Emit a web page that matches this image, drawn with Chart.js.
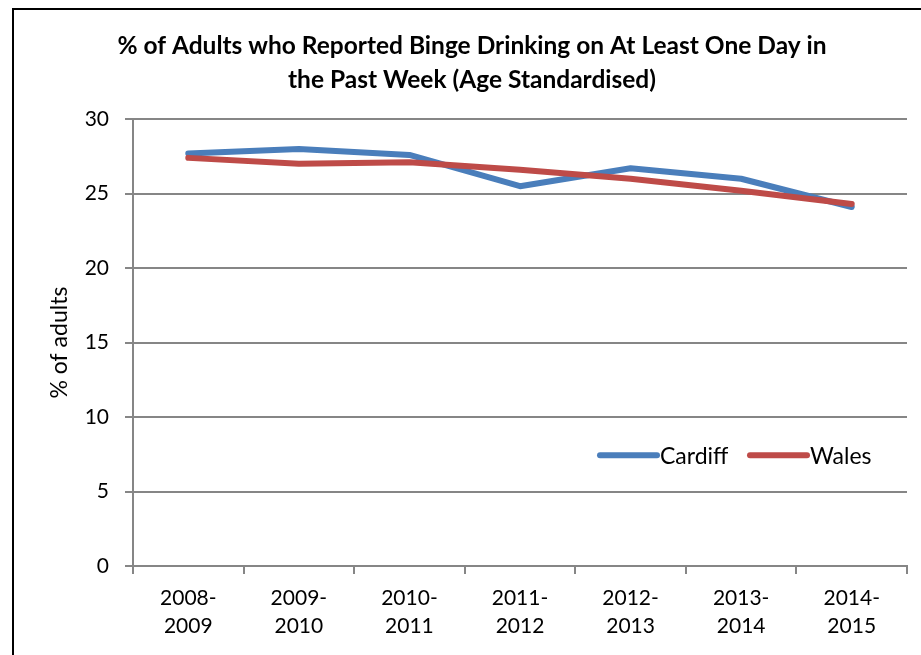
<!DOCTYPE html>
<html>
<head>
<meta charset="utf-8">
<script src="https://cdn.jsdelivr.net/npm/chart.js@4.4.1/dist/chart.umd.min.js"></script>
<style>
  html, body { margin: 0; padding: 0; background: #fff; overflow: hidden; }
  #frame { position: absolute; left: 12px; top: 8px; width: 940px; height: 700px; border: 2px solid #000; }
  #wrap { position: absolute; left: 0; top: 0; width: 921px; height: 655px; }
</style>
</head>
<body>
<div id="frame"></div>
<div id="wrap"><canvas id="line-chart"></canvas></div>
<script>
const years = [
  ["2008-", "2009"], ["2009-", "2010"], ["2010-", "2011"], ["2011-", "2012"],
  ["2012-", "2013"], ["2013-", "2014"], ["2014-", "2015"],
];
const cardiff = [27.7, 28.0, 27.6, 25.5, 26.7, 26.0, 24.1];
const wales = [27.4, 27.0, 27.1, 26.6, 26.0, 25.2, 24.3];
const yTicks = [0, 5, 10, 15, 20, 25, 30];

const FONT = "Lato, 'Open Sans', sans-serif";
const GRID = "#868686";

// legend drawn inside the plot, lower right
const legendSlots = [467, 617];
const insideLegend = {
  id: "insideLegend",
  afterDatasetsDraw(chart) {
    const ctx = chart.ctx;
    const area = chart.chartArea;
    const y = area.top + 336;
    ctx.save();
    ctx.font = "23px " + FONT;
    ctx.textBaseline = "middle";
    ctx.fillStyle = "#000";
    chart.data.datasets.forEach((ds, i) => {
      const x = area.left + legendSlots[i];
      ctx.strokeStyle = ds.borderColor;
      ctx.lineWidth = 6;
      ctx.lineCap = "round";
      ctx.beginPath();
      ctx.moveTo(x, y);
      ctx.lineTo(x + 57, y);
      ctx.stroke();
      ctx.fillText(ds.label, x + 60, y + 1);
    });
    ctx.restore();
  },
};

new Chart(document.getElementById("line-chart"), {
  type: "line",
  data: {
    labels: years,
    datasets: [
      {
        label: "Cardiff",
        data: cardiff,
        borderColor: "#4A7EBB",
        borderWidth: 6,
        order: 1,
      },
      {
        label: "Wales",
        data: wales,
        borderColor: "#BE4B48",
        borderWidth: 6,
        order: 0,
      },
    ],
  },
  plugins: [insideLegend],
  options: {
    responsive: true,
    maintainAspectRatio: false,
    animation: false,
    layout: { padding: { left: 37, right: 14, top: 0, bottom: 0 } },
    elements: {
      point: { radius: 0 },
      line: { tension: 0, borderCapStyle: "round", borderJoinStyle: "round" },
    },
    plugins: {
      legend: { display: false },
      tooltip: { enabled: false },
      title: {
        display: true,
        text: [
          "% of Adults who Reported Binge Drinking on At Least One Day in",
          "the Past Week (Age Standardised)",
        ],
        color: "#000",
        font: { family: FONT, size: 24.5, weight: "bold", lineHeight: 1.35 },
        padding: { top: 30, bottom: 23 },
      },
    },
    scales: {
      x: {
        offset: true,
        grid: { drawOnChartArea: false, offset: true, tickLength: 8, color: GRID, lineWidth: 2 },
        border: { color: GRID, width: 2 },
        ticks: { color: "#000", font: { family: FONT, size: 21, lineHeight: 1.33 }, padding: 10, maxRotation: 0 },
        afterFit(scale) { scale.height = 89; },
      },
      y: {
        min: 0,
        max: 30,
        afterBuildTicks(scale) { scale.ticks = yTicks.map((v) => ({ value: v })); },
        grid: { color: GRID, lineWidth: 2, tickLength: 8 },
        border: { color: GRID, width: 2 },
        ticks: { color: "#000", font: { family: FONT, size: 21 }, padding: 16 },
        title: {
          display: true,
          text: "% of adults",
          color: "#000",
          font: { family: FONT, size: 23 },
          padding: { top: 9, bottom: 0 },
        },
        afterFit(scale) { scale.width = 96; },
      },
    },
  },
});
</script>
</body>
</html>
